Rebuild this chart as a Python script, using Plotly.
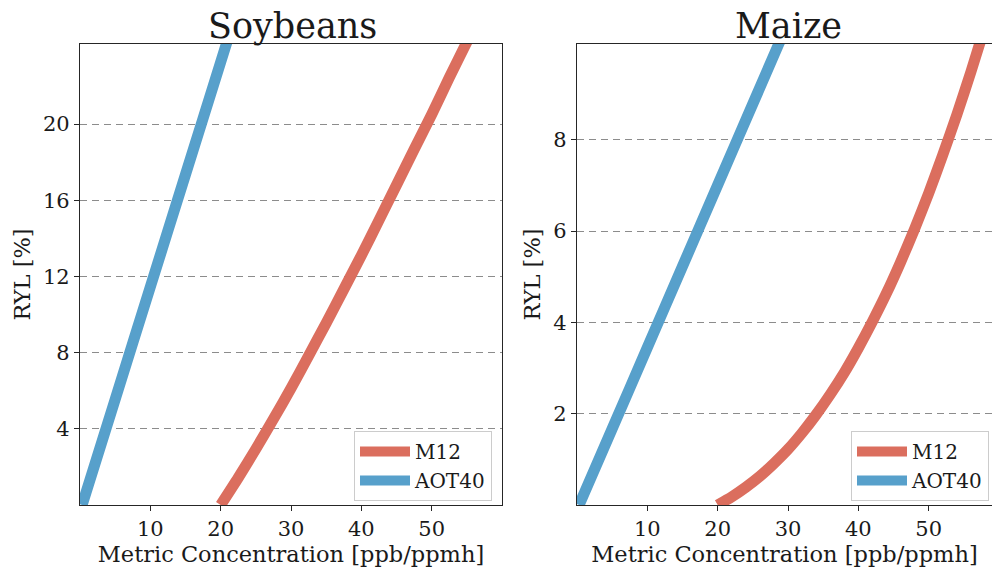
import plotly.graph_objects as go

# ---- data ----
soy_m12_x = [20, 22.5, 25, 27.5, 30, 32.5, 35, 37.5, 40, 42.5, 45, 47.5, 50, 52.5, 55, 57.5]
soy_m12_y = [0, 1.43, 2.94, 4.51, 6.13, 7.83, 9.55, 11.32, 13.1, 14.94, 16.8, 18.66, 20.5, 22.43, 24.3, 26.2]
soy_aot_x = [0.3, 5, 10, 15, 20, 25]
soy_aot_y = [0, 5.55, 11.45, 17.35, 23.25, 29.15]

maize_m12_x = [20, 22, 24, 26, 28, 30, 32, 34, 36, 38, 40, 42, 44, 46, 48, 50, 52, 54, 56, 58]
maize_m12_y = [0, 0.18, 0.39, 0.63, 0.91, 1.22, 1.58, 1.98, 2.42, 2.90, 3.44, 4.02,
               4.64, 5.32, 6.05, 6.83, 7.67, 8.55, 9.49, 10.48]
maize_aot_x = [0.3, 5, 10, 15, 20, 25, 30]
maize_aot_y = [0, 1.67, 3.45, 5.23, 7.01, 8.79, 10.57]

x_ticks = [10, 20, 30, 40, 50]
soy_y_ticks = [4, 8, 12, 16, 20]
maize_y_ticks = [2, 4, 6, 8]

colors = {"M12": "#db6e5e", "AOT40": "#57a0cb"}

FONT = "DejaVu Serif"
W, H = 992, 568
TXT = "#1a1a1a"


def px_x(p):
    return p / W


def px_y(p):
    return (H - p) / H


fig = go.Figure()


def add_line(xs, ys, name, xa, ya, leg):
    fig.add_trace(go.Scatter(x=xs, y=ys, mode="lines", name=name,
                             line=dict(color=colors[name], width=11, shape="spline", smoothing=0.6),
                             xaxis=xa, yaxis=ya, legend=leg, hoverinfo="skip"))


add_line(soy_m12_x, soy_m12_y, "M12", "x", "y", "legend")
add_line(soy_aot_x, soy_aot_y, "AOT40", "x", "y", "legend")
add_line(maize_m12_x, maize_m12_y, "M12", "x2", "y2", "legend2")
add_line(maize_aot_x, maize_aot_y, "AOT40", "x2", "y2", "legend2")

axis_common = dict(showline=True, linecolor="#262626", linewidth=1.2,
                   ticks="outside", ticklen=5, tickwidth=1.2, tickcolor="#262626",
                   tickfont=dict(family=FONT, size=21, color=TXT),
                   zeroline=False, automargin=False)
grid_style = dict(showgrid=True, gridcolor="#8c8c8c", gridwidth=1.4, griddash="7px,5px")

ydom = [px_y(505), px_y(44)]
xtitle = dict(text="Metric Concentration [ppb/ppmh]", font=dict(family=FONT, size=22.5, color=TXT), standoff=2)
ytitle = dict(text="RYL [%]", font=dict(family=FONT, size=22.5, color=TXT), standoff=6)

legend_common = dict(xanchor="left", yanchor="top",
                     bgcolor="rgba(255,255,255,0.85)", bordercolor="#cccccc", borderwidth=1,
                     font=dict(family=FONT, size=20, color=TXT), itemwidth=50,
                     tracegroupgap=0)

fig.update_layout(
    template="none",
    width=W, height=H,
    margin=dict(l=0, r=0, t=0, b=0, autoexpand=False),
    paper_bgcolor="white", plot_bgcolor="white",
    font=dict(family=FONT, size=20, color=TXT),
    xaxis=dict(domain=[px_x(80), px_x(502)], range=[0, 60], tickvals=x_ticks,
               anchor="y", mirror=True, showgrid=False, title=xtitle, **axis_common),
    yaxis=dict(domain=ydom, range=[0, 24.2], tickvals=soy_y_ticks, anchor="x",
               mirror=True, title=ytitle, **grid_style, **axis_common),
    xaxis2=dict(domain=[px_x(577), 1.0], range=[0, 59.0], tickvals=x_ticks,
                anchor="y2", mirror=True, showgrid=False, title=xtitle, **axis_common),
    yaxis2=dict(domain=ydom, range=[0, 10.1], tickvals=maize_y_ticks, anchor="x2",
                mirror=False, title=ytitle, **grid_style, **axis_common),
    legend=dict(x=px_x(354), y=px_y(431), **legend_common),
    legend2=dict(x=px_x(851), y=px_y(431), **legend_common),
    showlegend=True,
    annotations=[
        dict(text="Soybeans", x=px_x(292), y=px_y(26), xref="paper", yref="paper",
             xanchor="center", yanchor="middle", showarrow=False,
             font=dict(family=FONT, size=35, color=TXT)),
        dict(text="Maize", x=px_x(788), y=px_y(26), xref="paper", yref="paper",
             xanchor="center", yanchor="middle", showarrow=False,
             font=dict(family=FONT, size=35, color=TXT)),
    ],
)

fig.write_html(
    "out.html",
    config={"displayModeBar": False},
    post_script="document.body.style.margin='0';document.body.style.overflow='hidden';",
)
